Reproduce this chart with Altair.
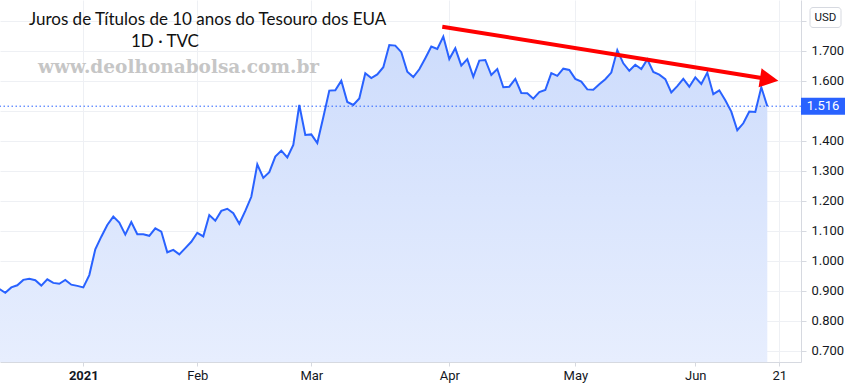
import altair as alt
import pandas as pd

# ---- data (10-year US Treasury yield, daily closes) ----
first_bar = -14  # bar index of the first value; bar 0 = first trading day of 2021
yields = [
    0.907, 0.894, 0.912, 0.919, 0.937, 0.941, 0.936, 0.918, 0.939, 0.927,
    0.924, 0.937, 0.921, 0.917,
    0.912, 0.953, 1.039, 1.081, 1.120, 1.148, 1.128, 1.088, 1.130, 1.089,
    1.089, 1.084, 1.109, 1.098, 1.029, 1.037, 1.022, 1.043, 1.064,
    1.094, 1.082, 1.153, 1.134, 1.167, 1.174, 1.159, 1.124, 1.167, 1.214,
    1.322, 1.277, 1.296, 1.348, 1.368, 1.345, 1.387, 1.520, 1.420,
    1.422, 1.393, 1.479, 1.568, 1.569, 1.601, 1.530, 1.520, 1.542, 1.626,
    1.610, 1.622, 1.646, 1.720, 1.718, 1.696, 1.631, 1.613, 1.639, 1.676,
    1.715, 1.707, 1.748,
    1.673, 1.709, 1.651, 1.673, 1.614, 1.668, 1.670, 1.620, 1.640, 1.579,
    1.581, 1.607, 1.560, 1.559, 1.541, 1.563, 1.570, 1.626, 1.617, 1.641,
    1.637,
    1.607, 1.598, 1.572, 1.571, 1.589, 1.606, 1.628, 1.703, 1.659, 1.634,
    1.654, 1.640, 1.672, 1.630, 1.621, 1.606, 1.562, 1.583, 1.607, 1.581,
    1.612, 1.590, 1.628, 1.556, 1.569, 1.536, 1.498, 1.436, 1.459, 1.498,
    1.497, 1.579, 1.516,
]
month_ticks = [0, 19, 38, 61, 82, 102, 116]
month_labels = ["2021", "Feb", "Mar", "Apr", "May", "Jun", "21"]
price_ticks = [0.7, 0.8, 0.9, 1.0, 1.1, 1.2, 1.3, 1.4, 1.5, 1.6, 1.7, 1.8]
hidden_price_labels = [1.5, 1.8]  # covered by the last-price tag and the USD box
last_value = yields[-1]

# hand-drawn trend arrow (in bar / price coordinates)
arrow_from = (59.83, 1.781)
arrow_to = (113.3, 1.609)
arrow_head = (114.32, 1.6057)

df = pd.DataFrame({"bar": list(range(first_bar, first_bar + len(yields))), "yield": yields})
last_df = pd.DataFrame({"yield": [last_value], "t": [f"{last_value:.3f}"]})
arrow_df = pd.DataFrame({"bar": [arrow_from[0]], "yield": [arrow_from[1]],
                         "bar2": [arrow_to[0]], "yield2": [arrow_to[1]]})
head_df = pd.DataFrame({"bar": [arrow_head[0]], "yield": [arrow_head[1]]})

W, H = 801, 362
AXIS_FONT = "'Liberation Sans Narrow', 'Roboto', sans-serif"
GRID = "#eef0f4"
DOMAIN = "#d6d9e0"
BLUE = "#2962ff"

label_expr = "".join(f"datum.value == {t} ? '{l}' : " for t, l in zip(month_ticks, month_labels)) + "''"
hide_test = " || ".join(f"abs(datum.value - {h}) < 0.001" for h in hidden_price_labels)
price_label_expr = f"({hide_test}) ? '' : format(datum.value, '.3f')"

x_scale = alt.Scale(domain=[-13.883, 119.617], nice=False, zero=False)
y_scale = alt.Scale(domain=[0.6633, 1.87], nice=False, zero=False)
x_axis = alt.Axis(values=month_ticks, labelExpr=label_expr, grid=True,
                  gridColor=GRID, domainColor=DOMAIN, tickColor=DOMAIN,
                  tickSize=4, labelPadding=3, labelFontSize=13,
                  labelFont=AXIS_FONT, labelColor="#131722", labelOverlap=False,
                  labelFontWeight={"condition": {"test": "datum.value == 0", "value": "bold"},
                                   "value": "normal"},
                  title=None)
y_axis = alt.Axis(orient="right", values=price_ticks, labelExpr=price_label_expr,
                  labelOverlap=False,
                  grid=True, gridColor=GRID, domainColor=DOMAIN, tickColor=DOMAIN,
                  tickSize=5, labelPadding=5, labelFontSize=13, labelFont=AXIS_FONT,
                  labelColor="#131722", title=None)
x_enc = alt.X("bar:Q", scale=x_scale, axis=x_axis)
y_enc = alt.Y("yield:Q", scale=y_scale, axis=y_axis)

base = alt.Chart(df)

area = base.mark_area(clip=True, color=alt.Gradient(
    gradient="linear",
    stops=[alt.GradientStop(color="#cddcfc", offset=0),
           alt.GradientStop(color="#f7f9ff", offset=1)],
    x1=1, x2=1, y1=0, y2=1)).encode(x=x_enc, y=y_enc)

line = base.mark_line(clip=True, color=BLUE, strokeWidth=2).encode(x=x_enc, y=y_enc)

last_rule = alt.Chart(last_df).mark_rule(
    color=BLUE, strokeWidth=1, strokeDash=[1.5, 2.5]).encode(y=y_enc)

price_box = alt.Chart(last_df).mark_rect(
    color=BLUE, yOffset=-8.5, y2Offset=8.5, clip=False).encode(
    x=alt.value(801), x2=alt.value(845), y=y_enc, y2=alt.Y2("yield:Q"))

price_text = alt.Chart(last_df).mark_text(
    color="white", fontSize=13, font=AXIS_FONT, align="center", baseline="middle", clip=False).encode(
    x=alt.value(823), y=y_enc, text="t:N")

arrow_line = alt.Chart(arrow_df).mark_rule(color="#ff0000", strokeWidth=4, strokeCap="butt").encode(
    x=x_enc, y=y_enc, x2="bar2:Q", y2="yield2:Q")

arrow_tip = alt.Chart(head_df).mark_point(
    shape="M-1,-1.04L1,0L-1,1.04Z", size=342, filled=True, opacity=1,
    color="#ff0000", angle=9).encode(x=x_enc, y=y_enc)

usd_box = alt.Chart(pd.DataFrame({"a": [0]})).mark_rect(
    fill="white", stroke="#d6d9e0", strokeWidth=1, cornerRadius=3).encode(
    x=alt.value(810), x2=alt.value(841), y=alt.value(7.5), y2=alt.value(27.5))
usd_text = alt.Chart(pd.DataFrame({"t": ["USD"]})).mark_text(
    fontSize=11.5, font=AXIS_FONT, color="#131722", align="center", baseline="middle").encode(
    x=alt.value(825.5), y=alt.value(17.8), text="t:N")

title1 = alt.Chart(pd.DataFrame({"t": ["Juros de Títulos de 10 anos do Tesouro dos EUA"]})).mark_text(
    font="Lato", fontSize=17, color="#111111", align="left", baseline="alphabetic").encode(
    x=alt.value(29), y=alt.value(25), text="t:N")
title2 = alt.Chart(pd.DataFrame({"t": ["1D · TVC"]})).mark_text(
    font="Lato", fontSize=17, color="#111111", align="left", baseline="alphabetic").encode(
    x=alt.value(131), y=alt.value(47), text="t:N")
watermark = alt.Chart(pd.DataFrame({"t": ["www.deolhonabolsa.com.br"]})).mark_text(
    font="DejaVu Serif", fontWeight="bold", fontSize=18.5, color="#c6c6c6",
    align="left", baseline="alphabetic").encode(
    x=alt.value(38), y=alt.value(73), text="t:N")

chart = alt.layer(
    area, line, last_rule, watermark, arrow_line, arrow_tip,
    price_box, price_text, usd_box, usd_text, title1, title2
).properties(
    width=W, height=H,
    autosize=alt.AutoSizeParams(type="none"),
    padding={"left": 0, "top": 0, "right": 49, "bottom": 28},
    background="white",
).configure_view(stroke=None)

chart.save("out.html", embed_options={"renderer": "svg", "actions": False})
